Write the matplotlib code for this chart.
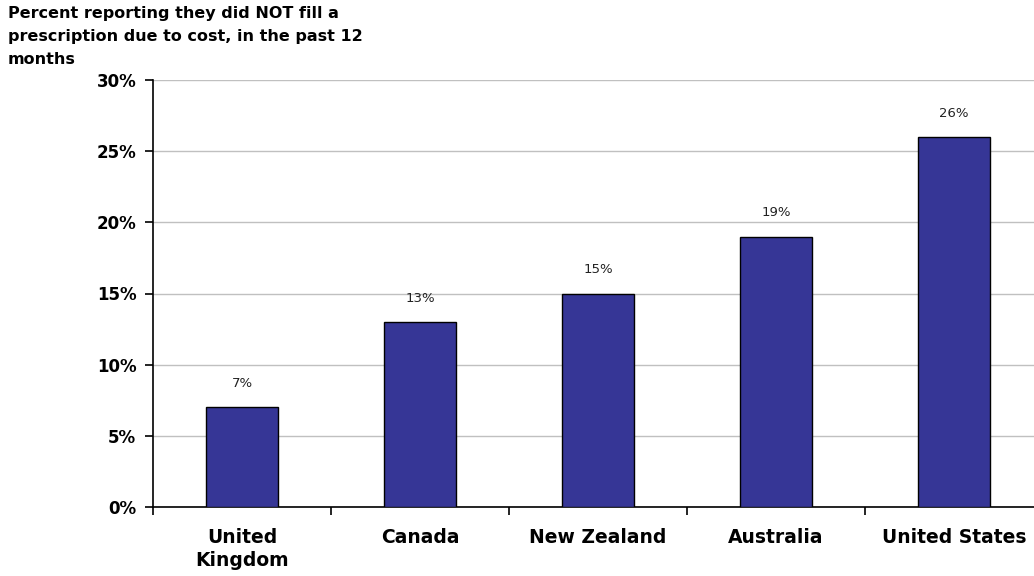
import matplotlib.pyplot as plt
from matplotlib.ticker import FuncFormatter, FixedLocator

countries = ["United\nKingdom", "Canada", "New Zealand", "Australia", "United States"]
percent_not_filled = [7, 13, 15, 19, 26]
y_ticks = [0, 5, 10, 15, 20, 25, 30]

bar_color = "#363696"

fig = plt.figure(figsize=(10.34, 5.76), dpi=100)
ax = fig.add_axes([153 / 1034, 1 - 507 / 576, 881 / 1034, (507 - 80) / 576])

x = list(range(len(countries)))
ax.bar(x, percent_not_filled, width=0.4, color=bar_color,
       edgecolor="black", linewidth=1.0, zorder=3)

for xi, v in zip(x, percent_not_filled):
    ax.text(xi, v + 1.2, f"{v}%", ha="center", va="bottom", fontsize=9.5,
            color="#222222")

ax.set_ylim(0, 30)
ax.set_xlim(-0.5, -0.5 + 881 / 178)
ax.yaxis.set_major_locator(FixedLocator(y_ticks))
ax.yaxis.set_major_formatter(FuncFormatter(lambda v, p: f"{int(v)}%"))
ax.grid(axis="y", color="#c0c0c0", linewidth=1.0, zorder=0)
ax.set_axisbelow(True)

for s in ["top", "right"]:
    ax.spines[s].set_visible(False)
ax.spines["left"].set_linewidth(1.2)
ax.spines["bottom"].set_linewidth(1.2)

ax.set_xticks(x)
ax.set_xticklabels(countries, fontsize=13.5, fontweight="bold")
ax.xaxis.set_minor_locator(FixedLocator([i - 0.5 for i in range(len(countries) + 1)]))
ax.tick_params(axis="x", which="major", length=0, pad=15)
ax.tick_params(axis="x", which="minor", length=6, width=1.2, direction="out")
ax.tick_params(axis="y", length=6, width=1.2, labelsize=12, pad=6)
for lbl in ax.get_yticklabels():
    lbl.set_fontweight("bold")
for lbl in ax.get_xticklabels():
    lbl.set_linespacing(1.25)

fig.text(8 / 1034, 1 - 6 / 576,
         "Percent reporting they did NOT fill a\nprescription due to cost, in the past 12\nmonths",
         ha="left", va="top", fontsize=11.5, fontweight="bold", linespacing=1.65)

fig.savefig("out.png", dpi=100)
